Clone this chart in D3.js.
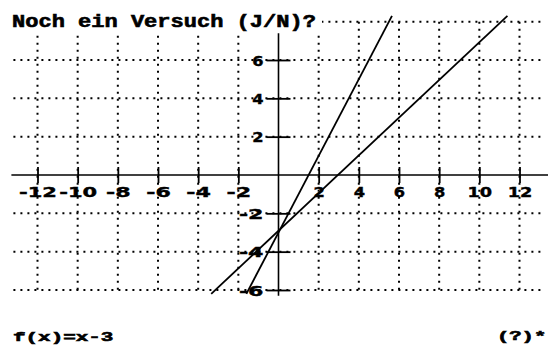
<!DOCTYPE html>
<html>
<head>
<meta charset="utf-8">
<script src="https://cdn.jsdelivr.net/npm/d3@7/dist/d3.min.js"></script>
<style>
  html, body { margin: 0; padding: 0; background: #fff; }
  svg { display: block; }
  text { font-family: "Liberation Mono", "DejaVu Sans Mono", monospace; font-weight: bold; fill: #000;
         stroke: #000; stroke-width: 0.6; }
  .tick text { font-family: "DejaVu Sans", sans-serif; stroke-width: 0.4; }
</style>
</head>
<body>
<svg id="chart" width="548" height="347"></svg>
<script>
// Tick values along each axis
const xTicks = [-12, -10, -8, -6, -4, -2, 2, 4, 6, 8, 10, 12];
const yTicks = [6, 4, 2, -2, -4, -6];
// Grid lines (every two units)
const xGrid = [-12, -10, -8, -6, -4, -2, 2, 4, 6, 8, 10, 12];
const yGrid = [8, 6, 4, 2, -2, -4, -6];

// The two plotted straight lines, as end points [x, y]
const lineFlat = [[-3.35, -6.2], [11.4, 8.3]];   // f(x) = x - 3
const lineSteep = [[-1.6, -6.2], [5.65, 8.3]];   // 2x - 3

// Texts
const titleText = "Noch ein Versuch (J/N)?";
const formulaText = "f(x)=x-3";
const promptText = "(?)*";

const svg = d3.select("#chart");
const W = 548, H = 347;

const x = d3.scaleLinear().domain([-12, 12]).range([37.5, 519.5]);
const y = d3.scaleLinear().domain([-6, 6]).range([290, 60]);

// wide terminal-style lettering: fixed advance per character
const cell = 13.3, smallCell = 12.8;
const fit = (s, adv) => s.length * adv - 2;

// dotted grid
const grid = svg.append("g").attr("stroke", "#000").attr("stroke-width", 2)
  .attr("stroke-dasharray", "2,5");
grid.selectAll("line.h").data(yGrid).join("line")
  .attr("class", "h")
  .attr("x1", x(-13.2)).attr("x2", x(13.2))
  .attr("y1", d => y(d)).attr("y2", d => y(d));
grid.selectAll("line.v").data(xGrid).join("line")
  .attr("class", "v")
  .attr("x1", d => x(d)).attr("x2", d => x(d))
  .attr("y1", y(8)).attr("y2", y(-6));

// title band covers the top of the grid
svg.append("rect").attr("x", 0).attr("y", 12).attr("width", 322).attr("height", 19)
  .attr("fill", "#fff");

// axis lines
svg.append("line").attr("x1", x(-13.3)).attr("x2", W)
  .attr("y1", y(0)).attr("y2", y(0))
  .attr("stroke", "#000").attr("stroke-width", 1.6);
svg.append("line").attr("x1", x(0)).attr("x2", x(0))
  .attr("y1", y(7.4)).attr("y2", y(-6.3))
  .attr("stroke", "#000").attr("stroke-width", 1.6);

const label = d => String(d).replace("\u2212", "-");

// x axis: cross-shaped ticks, labels below
const xAxis = d3.axisBottom(x).tickValues(xTicks).tickSize(16).tickFormat(label);
const gx = svg.append("g").attr("transform", `translate(0,${y(0) - 8})`).call(xAxis);
gx.select(".domain").remove();
gx.selectAll(".tick line").attr("stroke", "#000").attr("stroke-width", 1.8);
gx.selectAll(".tick text")
  .attr("x", 0).attr("y", 30).attr("dy", null)
  .attr("font-size", 14.5)
  .attr("text-anchor", "middle")
  .attr("textLength", d => fit(label(d), cell))
  .attr("lengthAdjust", "spacingAndGlyphs");

// y axis: cross-shaped ticks, labels on the left
const yAxis = d3.axisLeft(y).tickValues(yTicks).tickSize(24).tickFormat(label);
const gy = svg.append("g").attr("transform", `translate(${x(0) + 12},0)`).call(yAxis);
gy.select(".domain").remove();
gy.selectAll(".tick line").attr("stroke", "#000").attr("stroke-width", 1.8);
gy.selectAll(".tick text")
  .attr("x", -27).attr("y", 5).attr("dy", null)
  .attr("font-size", 14.5)
  .attr("text-anchor", "end")
  .attr("textLength", d => fit(label(d), cell))
  .attr("lengthAdjust", "spacingAndGlyphs");

// function lines
const line = d3.line().x(d => x(d[0])).y(d => y(d[1]));
svg.append("g").selectAll("path").data([lineFlat, lineSteep]).join("path")
  .attr("d", line)
  .attr("fill", "none").attr("stroke", "#000").attr("stroke-width", 1.8);

// texts
svg.append("text").attr("x", 12).attr("y", 27)
  .attr("font-size", 18)
  .attr("textLength", fit(titleText, cell)).attr("lengthAdjust", "spacingAndGlyphs")
  .text(titleText);
svg.append("text").attr("x", 13).attr("y", 341)
  .attr("font-size", 12.5)
  .attr("textLength", fit(formulaText, smallCell)).attr("lengthAdjust", "spacingAndGlyphs")
  .text(formulaText);
svg.append("text").attr("x", 497).attr("y", 340)
  .attr("font-size", 12.5)
  .attr("textLength", fit(promptText, smallCell)).attr("lengthAdjust", "spacingAndGlyphs")
  .text(promptText);
</script>
</body>
</html>
